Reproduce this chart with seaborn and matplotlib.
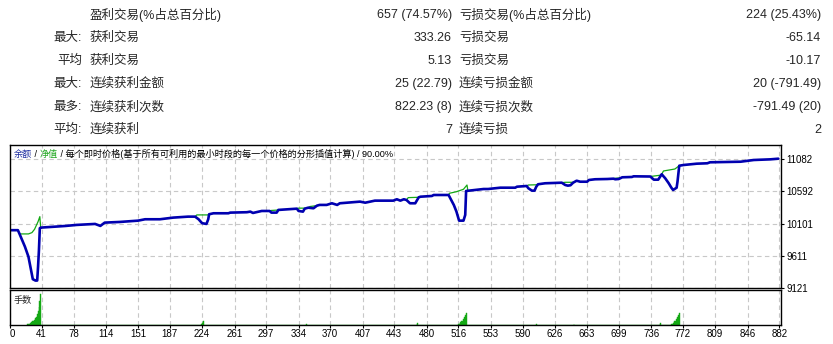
import numpy as np
import pandas as pd
import seaborn as sns
import matplotlib.pyplot as plt

# ---------------- summary table (top) ----------------
row_prefix = ["", "最大:", "平均", "最大:", "最多:", "平均:"]
win_labels = ["盈利交易(%占总百分比)", "获利交易", "获利交易", "连续获利金额", "连续获利次数", "连续获利"]
win_values = ["657 (74.57%)", "333.26", "5.13", "25 (22.79)", "822.23 (8)", "7"]
loss_labels = ["亏损交易(%占总百分比)", "亏损交易", "亏损交易", "连续亏损金额", "连续亏损次数", "连续亏损"]
loss_values = ["224 (25.43%)", "-65.14", "-10.17", "20 (-791.49)", "-791.49 (20)", "2"]

# ---------------- balance curve (blue) ----------------
bal_t = [5, 14, 16, 22, 26, 29, 31, 34, 36, 37, 38, 39, 40, 68, 81, 102, 108, 113, 130, 151,
         159, 176, 191, 208, 216, 220, 224, 229, 231, 232, 237, 254, 256, 275, 279, 282, 292,
         301, 303, 309, 311, 322, 332, 334, 339, 341, 345, 351, 355, 358, 366, 372, 378, 381,
         389, 404, 410, 421, 442, 446, 450, 454, 457, 461, 467, 471, 473, 486, 488, 505, 507,
         511, 514, 517, 522, 524, 525, 528, 535, 545, 550, 564, 581, 583, 594, 596, 600, 603,
         605, 607, 615, 634, 638, 641, 644, 647, 651, 655, 663, 665, 672, 686, 693, 695, 699,
         703, 714, 716, 735, 739, 744, 747, 748, 752, 756, 759, 761, 765, 766, 768, 773, 782,
         788, 800, 803, 838, 853, 872, 881]
bal_v = [10000, 10000, 9939, 9750, 9598, 9396, 9255, 9234, 9234, 9447, 9700, 10030, 10039,
         10064, 10080, 10095, 10065, 10115, 10125, 10145, 10166, 10166, 10191, 10206, 10206,
         10166, 10106, 10095, 10166, 10242, 10257, 10257, 10267, 10273, 10282, 10262, 10292,
         10292, 10267, 10267, 10308, 10318, 10327, 10292, 10282, 10327, 10342, 10333, 10373,
         10384, 10384, 10409, 10384, 10409, 10418, 10434, 10418, 10449, 10449, 10470, 10449,
         10470, 10459, 10409, 10409, 10500, 10509, 10520, 10535, 10535, 10485, 10383, 10282,
         10145, 10145, 10232, 10596, 10601, 10611, 10626, 10626, 10646, 10646, 10661, 10672,
         10637, 10601, 10601, 10661, 10698, 10713, 10722, 10687, 10677, 10683, 10722, 10752,
         10737, 10737, 10763, 10774, 10778, 10783, 10774, 10778, 10804, 10809, 10819, 10816,
         10768, 10768, 10828, 10850, 10789, 10713, 10646, 10611, 10646, 10737, 10980, 10991,
         11002, 11011, 11017, 11032, 11041, 11067, 11077, 11087]

# ---------------- equity (green), only where it leaves the balance ----------------
eq_t = [[14, 16, 26, 30, 33, 37, 39, 40],
        [216, 218, 231, 232],
        [301, 303, 309, 311],
        [332, 334, 341],
        [345, 347, 356],
        [457, 459, 471],
        [505, 506, 514, 522, 526, 527],
        [594, 596, 605, 607],
        [634, 638, 647],
        [693, 695, 701],
        [735, 746, 748, 750, 763, 768]]
eq_v = [[10000, 9943, 9943, 9963, 10014, 10130, 10206, 10039],
        [10206, 10232, 10232, 10242],
        [10292, 10300, 10305, 10308],
        [10327, 10335, 10335],
        [10342, 10360, 10375],
        [10459, 10495, 10500],
        [10535, 10561, 10585, 10622, 10687, 10601],
        [10672, 10687, 10690, 10698],
        [10722, 10728, 10728],
        [10783, 10789, 10795],
        [10816, 10835, 10850, 10900, 10930, 10980]]

# ---------------- lots (手数) ----------------
lot_trades = [25, 26, 27, 28, 29, 30, 31, 32, 33, 34, 35, 36, 37, 38, 39, 40,
              223, 224, 225, 226, 343, 469, 470,
              516, 517, 518, 519, 520, 521, 522, 523, 524, 525,
              605, 648, 746, 747,
              759, 760, 761, 762, 763, 764, 765, 766, 767, 768]
lot_sizes = [0.01, 0.01, 0.01, 0.02, 0.02, 0.03, 0.04, 0.05, 0.06, 0.08, 0.10, 0.13, 0.17, 0.22, 0.29, 0.38,
             0.01, 0.02, 0.03, 0.05, 0.01, 0.01, 0.02,
             0.01, 0.01, 0.02, 0.03, 0.04, 0.05, 0.07, 0.09, 0.12, 0.15,
             0.01, 0.01, 0.01, 0.02,
             0.01, 0.01, 0.02, 0.03, 0.04, 0.05, 0.07, 0.09, 0.12, 0.15]

y_ticks = [9121, 9611, 10101, 10592, 11082]
x_ticks = [41, 78, 114, 151, 187, 224, 261, 297, 334, 370, 407, 443, 480, 516, 553, 590,
           626, 663, 699, 736, 772, 809, 846, 882]

sns.set_style("white")
plt.rcParams["font.family"] = ["Liberation Sans", "Noto Sans CJK SC"]

blue = "#0000b0"
green = "#14a814"
grid_c = "#c8c8c8"
dash = (0, (4, 3))

W, H = 833, 344
fig = plt.figure(figsize=(W / 100, H / 100), dpi=100)

# table
for i in range(len(win_labels)):
    y = 1 - (15 + 23 * i) / H
    fig.text(82 / W, y, row_prefix[i], ha="right", va="center", fontsize=9)
    fig.text(90 / W, y, win_labels[i], ha="left", va="center", fontsize=9)
    fig.text(452 / W, y, win_values[i], ha="right", va="center", fontsize=9)
    fig.text(459 / W, y, loss_labels[i], ha="left", va="center", fontsize=9)
    fig.text(821 / W, y, loss_values[i], ha="right", va="center", fontsize=9)

ax = fig.add_axes([10 / W, 1 - 288 / H, 771 / W, 143 / H])
ax2 = fig.add_axes([10 / W, 1 - 324.5 / H, 771 / W, 34.2 / H], sharex=ax)

for st, sv in zip(eq_t, eq_v):
    sns.lineplot(x=st, y=sv, ax=ax, color=green, linewidth=0.9, estimator=None, sort=False)
sns.lineplot(x=bal_t, y=bal_v, ax=ax, color=blue, linewidth=1.9, estimator=None, sort=False)

sns.histplot(x=lot_trades, weights=lot_sizes, discrete=True, ax=ax2, color=green, alpha=1,
             edgecolor=green, linewidth=0.3)

x_left, x_right = 5, 884
ax.set_xlim(x_left, x_right)
ax.set_ylim(9121, 11295)
ax2.set_ylim(0, 0.43)

ax.yaxis.tick_right()
ax.set_yticks(y_ticks)
ax.set_yticklabels([str(v) for v in y_ticks])
ax.tick_params(axis="y", right=True, left=False, labelright=True, labelleft=False,
               direction="out", length=2, width=0.8, pad=2, labelsize=7, colors="black")
ax.tick_params(axis="x", bottom=False, labelbottom=False)

ax2.set_xticks([x_left] + x_ticks)
ax2.set_xticklabels(["0"] + [str(v) for v in x_ticks])
ax2.set_yticks([])
ax2.tick_params(axis="x", bottom=True, direction="out", length=2, width=0.8, pad=1.5,
                labelsize=7, colors="black")
ax2.get_xticklabels()[0].set_horizontalalignment("left")

ax.grid(True, color=grid_c, linestyle=dash, linewidth=0.8)
ax2.grid(True, axis="x", color=grid_c, linestyle=dash, linewidth=0.8)
ax2.grid(False, axis="y")
for a in (ax, ax2):
    a.set_xlabel("")
    a.set_ylabel("")
    for s in a.spines.values():
        s.set_visible(True)
        s.set_color("black")
        s.set_linewidth(1.0)

# chart caption with coloured parts
t0 = ax.text(4 / 771, 0.937, "余额", color="#1c2ca0", fontsize=6.6, va="center", ha="left",
             transform=ax.transAxes)
t1 = ax.annotate(" / ", xy=(1, 0), xycoords=t0, va="bottom", ha="left", fontsize=6.6, color="black")
t2 = ax.annotate("净值", xy=(1, 0), xycoords=t1, va="bottom", ha="left", fontsize=6.6, color="#22a822")
ax.annotate(" / 每个即时价格(基于所有可利用的最小时段的每一个价格的分形插值计算) / 90.00%",
            xy=(1, 0), xycoords=t2, va="bottom", ha="left", fontsize=6.6, color="black")

ax2.text(4 / 771, 0.7, "手数", fontsize=6.6, va="center", ha="left", transform=ax2.transAxes)

fig.savefig("out.png", dpi=100)
